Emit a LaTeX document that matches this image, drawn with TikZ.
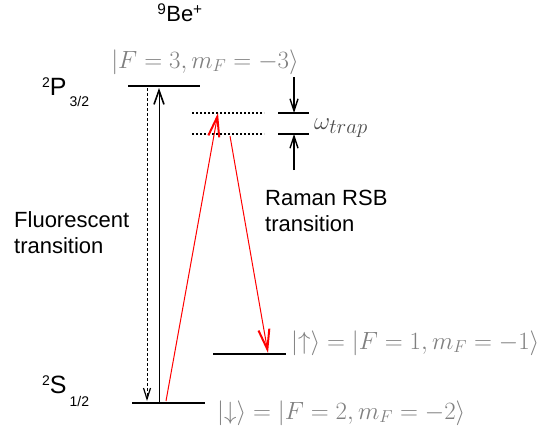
\documentclass[tikz,border=0pt]{standalone}
\usepackage{fontspec}
\setmainfont{Liberation Sans}
\usetikzlibrary{arrows.meta}

\begin{document}
\begin{tikzpicture}[x=1pt, y=-1pt,
  % energy levels and virtual levels
  level/.style={line width=2.2pt},
  virtlevel/.style={line width=1.6pt, dash pattern=on 2pt off 2pt},
  % kets and plain labels
  ket/.style={text=gray, font=\fontsize{25}{30}\selectfont, inner sep=0pt},
  txt/.style={font=\fontsize{22}{26}\selectfont, align=left, inner sep=0pt},
  term/.style={font=\fontsize{25}{30}\selectfont, inner sep=0pt},
  % arrows
  blackarrow/.style={line width=0.8pt, -{Straight Barb[length=14pt, width=10pt, line width=1.6pt]}},
  fluoarrow/.style={line width=0.8pt, dash pattern=on 3pt off 2pt, -{Straight Barb[length=11pt, width=7pt, line width=1.2pt]}},
  traparrow/.style={line width=1.2pt, -{Straight Barb[length=12pt, width=8pt, line width=1.4pt]}},
  ramanarrow/.style={red, line width=1pt, -{Straight Barb[length=20pt, width=11pt, line width=2pt]}}
]
\useasboundingbox (0,0) rectangle (542,431);
\newcommand{\smallnum}[1]{{\fontsize{14}{14}\selectfont #1}}

% levels
\coordinate (Pl) at (128,86);   \coordinate (Pr) at (200,86);
\coordinate (Dl) at (132,403);  \coordinate (Dr) at (205,403);
\coordinate (Ul) at (213,354);  \coordinate (Ur) at (286,354);
\coordinate (V1l) at (192,113); \coordinate (V1r) at (264,113);
\coordinate (V2l) at (192,134); \coordinate (V2r) at (264,134);
\coordinate (T1l) at (278,113); \coordinate (T1r) at (309,113);
\coordinate (T2l) at (278,134); \coordinate (T2r) at (309,134);

\draw[level] (Pl) -- (Pr);
\draw[level] (Dl) -- (Dr);
\draw[level] (Ul) -- (Ur);
\draw[virtlevel] (V1l) -- (V1r);
\draw[virtlevel] (V2l) -- (V2r);
\draw[level, line width=1.8pt] (T1l) -- (T1r);
\draw[level, line width=1.8pt] (T2l) -- (T2r);

% labels
\node[txt, anchor=base] (ion) at (180,22) {\textsuperscript{9}Be\textsuperscript{+}};
\node[term, anchor=base west] (pterm) at (42,95) {\raisebox{8pt}{\smallnum{2}}P\hspace{3pt}\raisebox{-12pt}{\smallnum{3/2}}};
\node[term, anchor=base west] (sterm) at (42,393) {\raisebox{8pt}{\smallnum{2}}S\hspace{3pt}\raisebox{-13pt}{\smallnum{1/2}}};
\node[ket] (kP) at (205,62) {$|F=3,m_F=-3\rangle$};
\node[ket, anchor=west] (kU) at (291,343) {$|{\uparrow}\rangle=|F=1,m_F=-1\rangle$};
\node[ket, anchor=west] (kD) at (217,413) {$|{\downarrow}\rangle=|F=2,m_F=-2\rangle$};
\node[ket, text=black!70, anchor=west, font=\fontsize{30}{34}\selectfont] (wt) at (314,128) {$\omega_{trap}$};
\node[txt, anchor=base west] (fluo) at (14,253) {Fluorescent\\transition};
\node[txt, anchor=base west] (raman) at (265,231) {Raman RSB\\transition};

% transitions
\coordinate (up0) at (159,403);  \coordinate (up1) at (159,88);
\coordinate (fl0) at (147,88);   \coordinate (fl1) at (147,401);
\coordinate (r0) at (166,401);   \coordinate (r1) at (218,113);
\coordinate (r2) at (230,136);   \coordinate (r3) at (268,353);
\coordinate (ta0) at (294,77);   \coordinate (ta1) at (294,113);
\coordinate (tb0) at (294,170);  \coordinate (tb1) at (294,134);

\draw[blackarrow] (up0) -- (up1);
\draw[fluoarrow] (fl0) -- (fl1);
\draw[ramanarrow] (r0) -- (r1);
\draw[ramanarrow] (r2) -- (r3);
\draw[traparrow] (ta0) -- (ta1);
\draw[traparrow] (tb0) -- (tb1);

\end{tikzpicture}
\end{document}
